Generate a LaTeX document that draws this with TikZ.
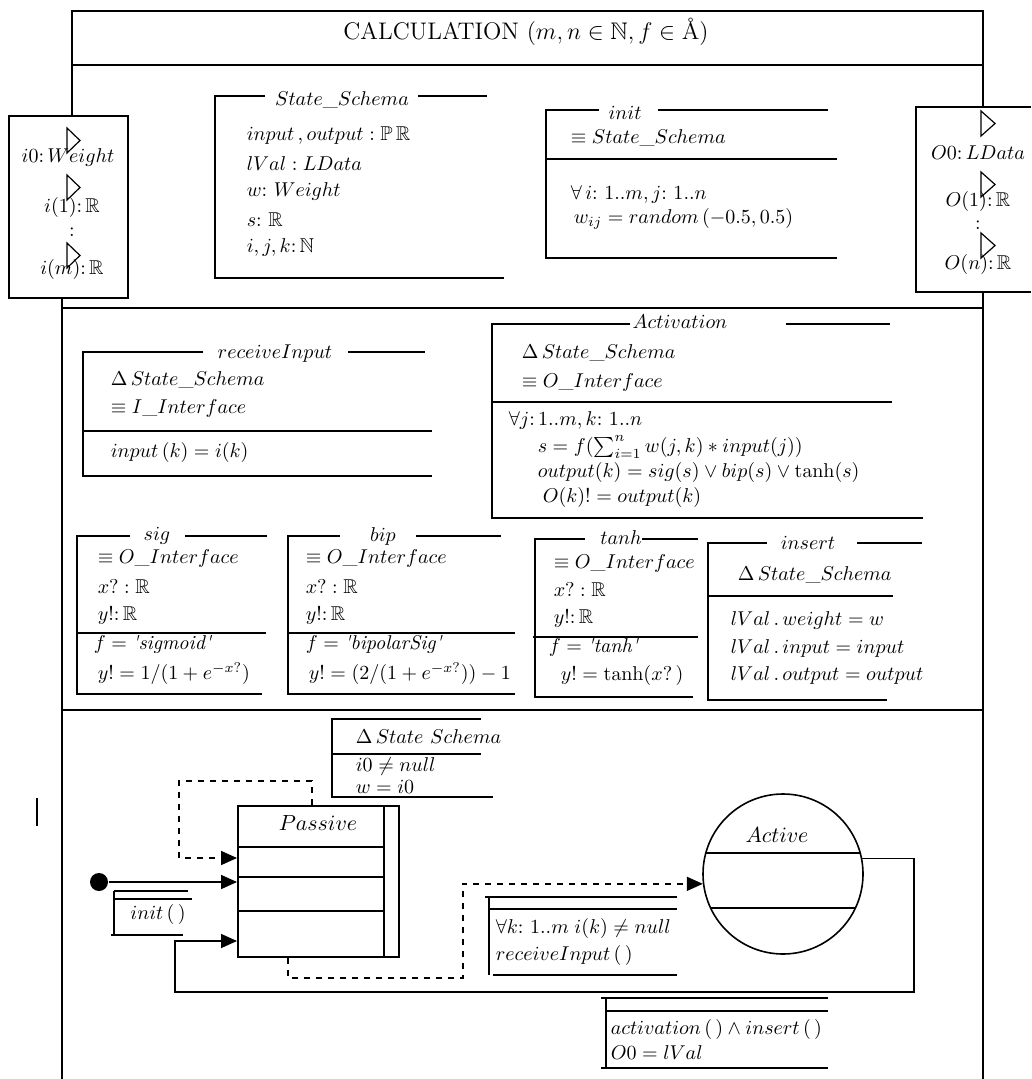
\documentclass[tikz,border=0pt]{standalone}
\usepackage{amsmath, amssymb}
\usetikzlibrary{arrows.meta, positioning}

\begin{document}
\begin{tikzpicture}[
  x=0.5pt, y=-0.5pt, line width=0.8pt,
  txt/.style={anchor=west, inner sep=0pt},
  ttl/.style={inner sep=0pt},
  port/.style={line width=0.6pt},
  trans/.style={-{Triangle[length=8pt, width=7pt]}},
  dtrans/.style={trans, dashed},
  state/.style={draw, inner sep=0pt},
  start/.style={circle, fill, inner sep=0pt, minimum size=9pt},
  big/.style={font=\fontsize{11}{13}\selectfont}
]
\useasboundingbox (0,0) rectangle (1031,1079);

% frame
\draw (72,116) -- (72,11) -- (983,11) -- (983,107);
\draw (72,65) -- (983,65);
\draw (983,292) -- (983,1079);
\draw (62,298) -- (62,1079);
\draw (62,308) -- (983,308);
\draw (62,710) -- (983,710);
\node (title) at (526,32) {\large CALCULATION $(m,n\in\mathbb{N}, f\in\mbox{\AA})$};

% ports
\draw (9,116) rectangle (128,298);
\draw (1031,107) -- (916,107) -- (916,292) -- (1031,292);
\foreach \y in {128,175,243} \draw[port] (67,\y) -- (80,\y+12.5) -- (67,\y+25) -- cycle;
\foreach \y in {111,172,233} \draw[port] (981,\y) -- (995,\y+12.5) -- (981,\y+25) -- cycle;
\node[ttl] (pi0) at (68,158) {$i0{:}\,Weight$};
\node[ttl] (pi1) at (72,208) {$i(1){:}\,\mathbb{R}$};
\node[ttl] (pid) at (72,232) {$:$};
\node[ttl] (pim) at (72,270) {$i(m){:}\,\mathbb{R}$};
\node[ttl] (po0) at (978,153) {$O0{:}\,LData$};
\node[ttl] (po1) at (978,202) {$O(1){:}\,\mathbb{R}$};
\node[ttl] (pod) at (978,225) {$:$};
\node[ttl] (pon) at (978,265) {$O(n){:}\,\mathbb{R}$};

% State_Schema
\draw (265,96) -- (215,96) -- (215,278) -- (504,278);
\draw (418,96) -- (487,96);
\node[ttl] (ssT) at (342,100) {$State\_Schema$};
\node[txt] (ss1) at (246,136) {$input\,, output : \mathbb{P}\,\mathbb{R}$};
\node[txt] (ss2) at (246,164) {$lVal : LData$};
\node[txt] (ss3) at (246,192) {$w{:}\ Weight$};
\node[txt] (ss4) at (246,220) {$s{:}\ \mathbb{R}$};
\node[txt] (ss5) at (246,248) {$i, j, k{:}\,\mathbb{N}$};

% init
\draw (599,110) -- (546,110) -- (546,258) -- (837,258);
\draw (658,110) -- (828,110);
\draw (546,159) -- (837,159);
\node[ttl] (initT) at (625,113) {$init$};
\node[txt] (init1) at (570,138) {$\equiv State\_Schema$};
\node[txt] (init2) at (570,195) {$\forall\, i{:}\ 1..m, j{:}\ 1..n$};
\node[txt] (init3) at (573,219) {$w_{ij} = random\,(-0.5, 0.5)$};

% receiveInput
\draw (203,352) -- (83,352) -- (83,476) -- (432,476);
\draw (348,352) -- (425,352);
\draw (83,431) -- (432,431);
\node[ttl] (riT) at (275,354) {$receiveInput$};
\node[txt] (ri1) at (110,380) {$\Delta\, State\_Schema$};
\node[txt] (ri2) at (110,408) {$\equiv I\_Interface$};
\node[txt] (ri3) at (110,452) {$input\,(k) = i(k)$};

% Activation
\draw (630,324) -- (492,324) -- (492,518) -- (923,518);
\draw (786,324) -- (890,324);
\draw (492,402) -- (892,402);
\node[ttl] (acT) at (680,322) {$Activation$};
\node[txt] (ac1) at (521,353) {$\Delta\, State\_Schema$};
\node[txt] (ac2) at (521,382) {$\equiv O\_Interface$};
\node[txt] (ac3) at (508,420) {$\forall j{:}\,1..m, k{:}\ 1..n$};
\node[txt] (ac4) at (537,447) {$s = f(\sum_{i=1}^{n} w(j,k) * input(j))$};
\node[txt] (ac5) at (537,472) {$output(k) = sig(s) \vee bip(s) \vee \tanh(s)$};
\node[txt] (ac6) at (542,497) {$O(k)! = output(k)$};

% sig
\draw (130,536) -- (77,536) -- (77,694) -- (262,694);
\draw (185,536) -- (267,536);
\draw (77,633) -- (266,633);
\node[ttl] (sigT) at (157,536) {$sig$};
\node[txt] (sig1) at (97,558) {$\equiv O\_Interface$};
\node[txt] (sig2) at (97,587) {$x? : \mathbb{R}$};
\node[txt] (sig3) at (97,615) {$y!{:}\,\mathbb{R}$};
\node[txt] (sig4) at (93,644) {$f = \text{\itshape\textquotesingle sigmoid\textquotesingle}$};
\node[txt] (sig5) at (97,674) {$y! = 1/(1 + e^{-x?})$};

% bip
\draw (340,536) -- (288,536) -- (288,694) -- (515,694);
\draw (416,536) -- (501,536);
\draw (288,633) -- (515,633);
\node[ttl] (bipT) at (383,536) {$bip$};
\node[txt] (bip1) at (305,558) {$\equiv O\_Interface$};
\node[txt] (bip2) at (305,587) {$x? : \mathbb{R}$};
\node[txt] (bip3) at (305,615) {$y!{:}\,\mathbb{R}$};
\node[txt] (bip4) at (305,644) {$f = \text{\itshape\textquotesingle bipolarSig\textquotesingle}$};
\node[txt] (bip5) at (308,674) {$y! = (2/(1 + e^{-x?})) - 1$};

% tanh
\draw (585,539) -- (535,539) -- (535,697) -- (693,697);
\draw (642,539) -- (698,539);
\draw (533,637) -- (698,637);
\node[ttl] (tanhT) at (621,538) {$tanh$};
\node[txt] (tanh1) at (553,563) {$\equiv O\_Interface$};
\node[txt] (tanh2) at (553,590) {$x? : \mathbb{R}$};
\node[txt] (tanh3) at (553,618) {$y!{:}\,\mathbb{R}$};
\node[txt] (tanh4) at (548,647) {$f = \text{\itshape\textquotesingle tanh\textquotesingle}$};
\node[txt] (tanh5) at (560,675) {$y! = \tanh(x?\,)$};

% insert
\draw (767,543) -- (708,543) -- (708,700) -- (887,700);
\draw (857,543) -- (922,543);
\draw (708,596) -- (893,596);
\node[ttl] (insT) at (808,543) {$insert$};
\node[txt] (ins1) at (737,575) {$\Delta\, State\_Schema$};
\node[txt] (ins2) at (730,620) {$lVal\,.\,weight = w$};
\node[txt] (ins3) at (730,648) {$lVal\,.\,input = input$};
\node[txt] (ins4) at (730,675) {$lVal\,.\,output = output$};

% state machine
\draw[line width=1.4pt] (37,798) -- (37,826);
\draw (481,719) -- (332,719) -- (332,797) -- (493,797);
\draw (332,754) -- (481,754);
\node[txt] (gp1) at (355,737) {$\Delta\, State\ Schema$};
\node[txt] (gp2) at (355,766) {$i0 \neq null$};
\node[txt] (gp3) at (355,787) {$w = i0$};

\node[state, minimum width=80.5pt, minimum height=75.5pt, anchor=north west] (passive) at (237,805) {};
\draw (384,805) -- (384,956);
\foreach \y in {847,877,911} \draw (237,\y) -- (384,\y);
\node[ttl, big] (passiveT) at (318,823) {$Passive$};

\node[state, circle, minimum size=80pt] (active) at (783,874) {};
\draw (706,853) -- (860,853);
\draw (711,908) -- (855,908);
\node[ttl, big] (activeT) at (777,835) {$Active$};

\node[start] (start) at (99,882) {};
\draw (114,891) -- (188,891);
\draw (114,899) -- (192,899);
\draw (114,891) -- (114,935);
\draw (111,935) -- (183,935);
\node[ttl] (gi) at (158,914) {$init\,(\,)$};

\draw (485,897) -- (677,897);
\draw (489,909) -- (677,909);
\draw (489,897) -- (489,975);
\draw (493,975) -- (677,975);
\node[txt] (gr1) at (495,928) {$\forall k{:}\ 1..m\; i(k) \neq null$};
\node[txt] (gr2) at (495,955) {$receiveInput\,(\,)$};

\draw (601,998) -- (828,998);
\draw (606,1011) -- (828,1011);
\draw (606,998) -- (606,1068);
\draw (601,1068) -- (828,1068);
\node[txt] (ga1) at (610,1029) {$activation\,(\,) \wedge insert\,(\,)$};
\node[txt] (ga2) at (610,1053) {$O0 = lVal$};

\draw[trans] (start) -- (passive.west |- start);
\draw[dtrans] ([xshift=37.5pt]passive.north west) |- (179,781) |- (passive.west |- 0,858);
\draw[dtrans] ([xshift=25.5pt]passive.south west) |- (463,978) |- (active.187);
\draw[trans] (active.11) -| (914,992) -| (175,941) -- (passive.west |- 0,941);
\end{tikzpicture}
\end{document}
